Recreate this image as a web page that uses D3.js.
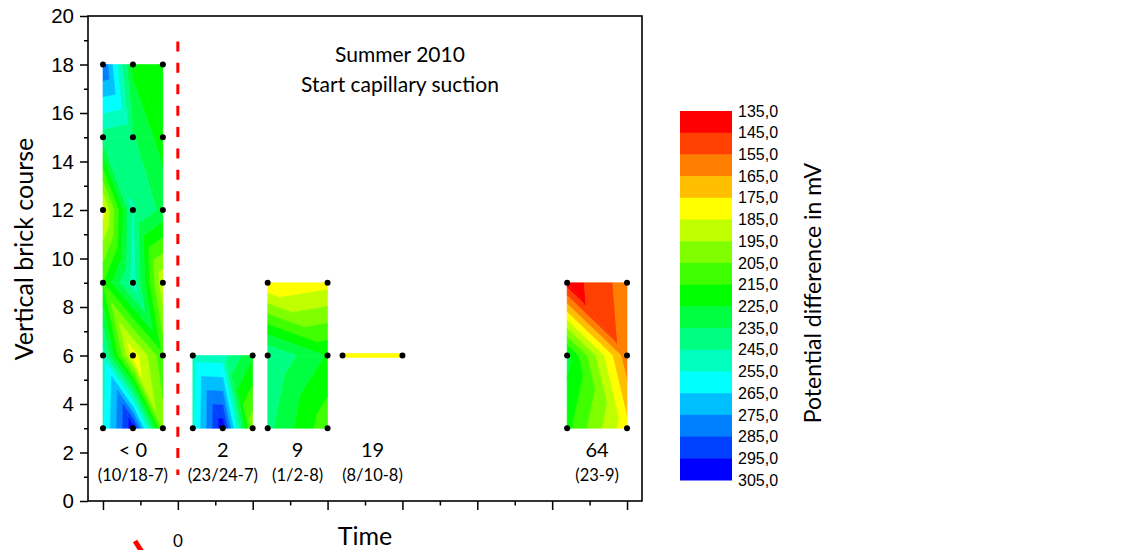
<!DOCTYPE html>
<html>
<head>
<meta charset="utf-8">
<script src="https://cdn.jsdelivr.net/npm/d3@7"></script>
<style>
  html, body { margin: 0; padding: 0; background: #fff; }
  svg { display: block; }
</style>
</head>
<body>
<svg id="chart" width="1128" height="550"></svg>
<script>
"use strict";

/* ── Data ─────────────────────────────────────────────────────────── */

/* Contour levels (mV) and the fill colour of each band, top of the bar first */
const LEVELS = [135, 145, 155, 165, 175, 185, 195, 205, 215, 225,
                235, 245, 255, 265, 275, 285, 295, 305];
const BAND_COLORS = ["#ff0000", "#ff4000", "#ff8000", "#ffbf00", "#ffff00",
                     "#bfff00", "#80ff00", "#40ff00", "#00ff00", "#00ff40",
                     "#00ff80", "#00ffbf", "#00ffff", "#00bfff", "#0080ff",
                     "#0040ff", "#0000ff"];

/* Each block: x positions (axis units), brick courses, values (rows bottom -> top),
   and a mask of which nodes carry a black marker. */
const B1_X = [0, 0.4, 0.8];
const B1_Y = [3, 6, 9, 12, 15, 18];
const B1_V = [
  [253, 302, 200],
  [250, 178, 212],
  [214, 250, 186],
  [180, 246, 232],
  [240, 236, 220],
  [285, 222, 220]
];
const B1_DOTS = [[1,1,1],[1,1,1],[1,1,1],[1,1,1],[1,1,1],[1,1,1]];

const B2_X = [1.2, 1.6, 2.0];
const B2_Y = [3, 6];
const B2_V = [
  [252, 302, 198],
  [250, 249, 226]
];
const B2_DOTS = [[1,1,1],[1,0,1]];

const B3_X = [2.2, 3.0];
const B3_Y = [3, 6, 9];
const B3_V = [
  [238, 208],
  [245, 224],
  [175, 181]
];
const B3_DOTS = [[1,1],[1,1],[1,1]];

const B4_X = [3.2, 4.0];
const B4_Y = [6];
const B4_V = [[180, 180]];
const B4_DOTS = [[1,1]];

const B5_X = [6.2, 7.0];
const B5_Y = [3, 6, 9];
const B5_V = [
  [218, 178],
  [228, 158],
  [139, 160]
];
const B5_DOTS = [[1,1],[1,1],[1,1]];

const TIME_LABELS = ["< 0", "2", "9", "19", "64"];
const DATE_LABELS = ["(10/18-7)", "(23/24-7)", "(1/2-8)", "(8/10-8)", "(23-9)"];

const START_X = 1;            // start of capillary suction (dashed line)
const START_Y = [1.07, 18.95];

(function () {

  const BLOCKS = [
    { xs: B1_X, ys: B1_Y, v: B1_V, dots: B1_DOTS },
    { xs: B2_X, ys: B2_Y, v: B2_V, dots: B2_DOTS },
    { xs: B3_X, ys: B3_Y, v: B3_V, dots: B3_DOTS },
    { xs: B4_X, ys: B4_Y, v: B4_V, dots: B4_DOTS },
    { xs: B5_X, ys: B5_Y, v: B5_V, dots: B5_DOTS }
  ];

  const FONT_TXT  = "Lato, 'Open Sans', sans-serif";
  const FONT_TICK = "'Liberation Sans', Arial, sans-serif";

  const svg = d3.select("#chart");

  const x = d3.scaleLinear().domain([-0.2, 7.2]).range([88, 642]);
  const y = d3.scaleLinear().domain([0, 20]).range([501, 16]);

  const color = d3.scaleThreshold()
    .domain(LEVELS.slice(1, -1))
    .range(BAND_COLORS);

  /* ── Contours: linear interpolation on triangles, clipped per band ── */

  function clip(poly, level, keepAbove) {
    const out = [];
    for (let k = 0; k < poly.length; k++) {
      const p = poly[k], q = poly[(k + 1) % poly.length];
      const pin = keepAbove ? p.v >= level : p.v <= level;
      const qin = keepAbove ? q.v >= level : q.v <= level;
      if (pin) out.push(p);
      if (pin !== qin) {
        const t = (level - p.v) / (q.v - p.v);
        out.push({ x: p.x + t * (q.x - p.x), y: p.y + t * (q.y - p.y), v: level });
      }
    }
    return out;
  }

  const polys = [];
  BLOCKS.forEach(function (b) {
    if (b.ys.length < 2) return;
    for (let j = 0; j < b.ys.length - 1; j++) {
      for (let i = 0; i < b.xs.length - 1; i++) {
        const bl = { x: b.xs[i],     y: b.ys[j],     v: b.v[j][i] };
        const br = { x: b.xs[i + 1], y: b.ys[j],     v: b.v[j][i + 1] };
        const tr = { x: b.xs[i + 1], y: b.ys[j + 1], v: b.v[j + 1][i + 1] };
        const tl = { x: b.xs[i],     y: b.ys[j + 1], v: b.v[j + 1][i] };
        /* cells are split along the top-left -> bottom-right diagonal */
        [[tl, bl, br], [tl, tr, br]].forEach(function (tri) {
          for (let n = 0; n < BAND_COLORS.length; n++) {
            let p = tri;
            if (n > 0) p = clip(p, LEVELS[n], true);
            if (n < BAND_COLORS.length - 1 && p.length) p = clip(p, LEVELS[n + 1], false);
            if (p.length >= 3) polys.push({ pts: p, fill: color((LEVELS[n] + LEVELS[n + 1]) / 2) });
          }
        });
      }
    }
  });

  const line = d3.line().x(function (p) { return x(p.x); }).y(function (p) { return y(p.y); });

  svg.append("g").attr("class", "contours")
    .selectAll("path").data(polys).join("path")
    .attr("d", function (p) { return line(p.pts) + "Z"; })
    .attr("fill", function (p) { return p.fill; })
    .attr("stroke", function (p) { return p.fill; })
    .attr("stroke-width", 0.6)
    .attr("stroke-linejoin", "round");

  /* Single-course measurement drawn as a thick line */
  BLOCKS.filter(function (b) { return b.ys.length === 1; }).forEach(function (b) {
    svg.append("line")
      .attr("x1", x(b.xs[0])).attr("x2", x(b.xs[b.xs.length - 1]))
      .attr("y1", y(b.ys[0])).attr("y2", y(b.ys[0]))
      .attr("stroke", color(d3.mean(b.v[0])))
      .attr("stroke-width", 4.5);
  });

  /* Node markers */
  const dots = [];
  BLOCKS.forEach(function (b) {
    b.ys.forEach(function (yy, j) {
      b.xs.forEach(function (xx, i) {
        if (b.dots[j][i]) dots.push([xx, yy]);
      });
    });
  });
  svg.append("g").selectAll("circle").data(dots).join("circle")
    .attr("cx", function (d) { return x(d[0]); })
    .attr("cy", function (d) { return y(d[1]); })
    .attr("r", 3)
    .attr("fill", "#000");

  /* Dashed start line */
  svg.append("line")
    .attr("x1", x(START_X)).attr("x2", x(START_X))
    .attr("y1", y(START_Y[1])).attr("y2", y(START_Y[0]))
    .attr("stroke", "#ff0000")
    .attr("stroke-width", 3)
    .attr("stroke-dasharray", "10,11.4");

  /* ── Axes ───────────────────────────────────────────────────────── */

  const yAxis = svg.append("g").attr("transform", "translate(" + x.range()[0] + ",0)")
    .call(d3.axisLeft(y).tickValues(d3.range(0, 21, 2)).tickSize(8).tickPadding(6));
  yAxis.select(".domain").remove();
  yAxis.selectAll("line").attr("stroke-width", 1.5);
  yAxis.selectAll("text").attr("font-family", FONT_TICK).attr("font-size", 20.5).attr("fill", "#000");

  const yMinor = svg.append("g").attr("transform", "translate(" + x.range()[0] + ",0)")
    .call(d3.axisLeft(y).tickValues(d3.range(1, 20, 2)).tickSize(4).tickFormat(""));
  yMinor.select(".domain").remove();
  yMinor.selectAll("line").attr("stroke-width", 1.5);

  const xAxis = svg.append("g").attr("transform", "translate(0," + y.range()[0] + ")")
    .call(d3.axisBottom(x).tickValues(d3.range(0, 8)).tickSize(9).tickFormat(""));
  xAxis.select(".domain").remove();
  xAxis.selectAll("line").attr("stroke-width", 1.5);

  const xMinor = svg.append("g").attr("transform", "translate(0," + y.range()[0] + ")")
    .call(d3.axisBottom(x).tickValues(d3.range(0.5, 7, 1)).tickSize(4.5).tickFormat(""));
  xMinor.select(".domain").remove();
  xMinor.selectAll("line").attr("stroke-width", 1.5);

  /* Frame */
  svg.append("rect")
    .attr("x", x.range()[0]).attr("y", y.range()[1])
    .attr("width", x.range()[1] - x.range()[0])
    .attr("height", y.range()[0] - y.range()[1])
    .attr("fill", "none").attr("stroke", "#000").attr("stroke-width", 1.6);

  /* Axis titles */
  svg.append("text")
    .attr("transform", "translate(33,249) rotate(-90)")
    .attr("text-anchor", "middle")
    .attr("font-family", FONT_TXT).attr("font-size", 25)
    .text("Vertical brick course");

  svg.append("text")
    .attr("x", 365).attr("y", 545)
    .attr("text-anchor", "middle")
    .attr("font-family", FONT_TXT).attr("font-size", 25)
    .text("Time");

  /* Stray legend sample under the axis */
  svg.append("line")
    .attr("x1", 135).attr("y1", 541).attr("x2", 142).attr("y2", 552)
    .attr("stroke", "#ff0000").attr("stroke-width", 5);
  svg.append("text")
    .attr("x", x(START_X)).attr("y", 547)
    .attr("text-anchor", "middle")
    .attr("font-family", FONT_TXT).attr("font-size", 17)
    .text("0");

  /* Chart title */
  const title = svg.append("text")
    .attr("text-anchor", "middle")
    .attr("font-family", FONT_TXT).attr("font-size", 21);
  title.append("tspan").attr("x", 400).attr("y", 62).text("Summer 2010");
  title.append("tspan").attr("x", 400).attr("y", 92).text("Start capillary suction");

  /* Block annotations */
  const centers = BLOCKS.map(function (b) { return (b.xs[0] + b.xs[b.xs.length - 1]) / 2; });
  svg.append("g").selectAll("text").data(TIME_LABELS).join("text")
    .attr("x", function (d, i) { return x(centers[i]); })
    .attr("y", 457)
    .attr("text-anchor", "middle")
    .attr("font-family", FONT_TXT).attr("font-size", 20)
    .text(function (d) { return d; });
  svg.append("g").selectAll("text").data(DATE_LABELS).join("text")
    .attr("x", function (d, i) { return x(centers[i]); })
    .attr("y", 481)
    .attr("text-anchor", "middle")
    .attr("font-family", FONT_TXT).attr("font-size", 16.5)
    .text(function (d) { return d; });

  /* ── Colour bar ─────────────────────────────────────────────────── */

  const cb = d3.scaleLinear().domain([LEVELS[0], LEVELS[LEVELS.length - 1]]).range([111, 480]);
  const bands = BAND_COLORS.map(function (c, i) { return { lo: LEVELS[i], hi: LEVELS[i + 1], c: c }; });

  svg.append("g").selectAll("rect").data(bands).join("rect")
    .attr("x", 680).attr("width", 52)
    .attr("y", function (d) { return cb(d.lo); })
    .attr("height", function (d) { return cb(d.hi) - cb(d.lo) + 0.5; })
    .attr("fill", function (d) { return d.c; });

  const cbAxis = svg.append("g").attr("transform", "translate(732,0)")
    .call(d3.axisRight(cb).tickValues(LEVELS).tickSize(0).tickPadding(6)
      .tickFormat(function (d) { return d3.format(".1f")(d).replace(".", ","); }));
  cbAxis.select(".domain").remove();
  cbAxis.selectAll("text").attr("font-family", FONT_TICK).attr("font-size", 16).attr("fill", "#000");

  svg.append("text")
    .attr("transform", "translate(821,293) rotate(-90)")
    .attr("text-anchor", "middle")
    .attr("font-family", FONT_TXT).attr("font-size", 23)
    .text("Potential difference in mV");

}());
</script>
</body>
</html>
